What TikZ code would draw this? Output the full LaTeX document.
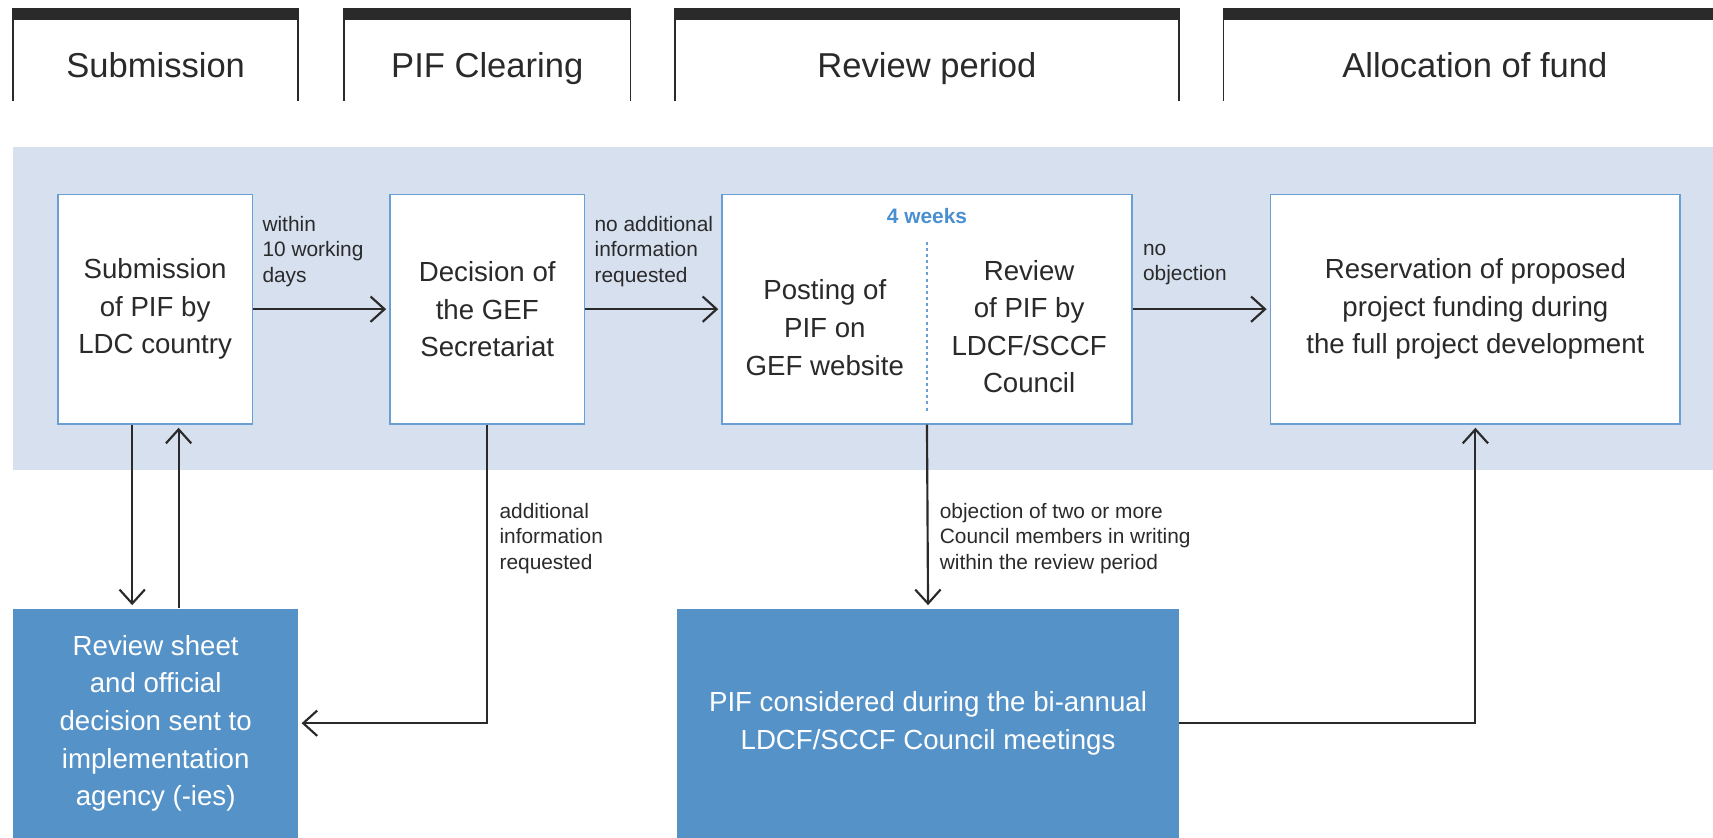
\documentclass[tikz,border=0pt]{standalone}
\usepackage{fontspec}
\setmainfont{Liberation Sans}
\usetikzlibrary{arrows.meta,positioning,calc}

\definecolor{bandblue}{HTML}{D6E0EF}
\definecolor{lineblue}{HTML}{6A9FD4}
\definecolor{boxblue}{HTML}{5592C8}
\definecolor{wkblue}{HTML}{4A8FD0}
\definecolor{txtgray}{HTML}{2A2A2A}
\newcommand{\pxl}{0.25mm}

\tikzset{
  flowbox/.style={draw=lineblue, line width=1.1pt, fill=white, inner sep=0pt, text=txtgray,
    align=center, font=\fontsize{18}{24.5}\selectfont},
  darkbox/.style={fill=boxblue, inner sep=0pt, text=white, align=center,
    font=\fontsize{18}{24.5}\selectfont},
  boxtxt/.style={text=txtgray, align=center, inner sep=0pt, font=\fontsize{18}{24.5}\selectfont},
  lbl/.style={text=txtgray, align=left, inner sep=0pt, anchor=west,
    font=\fontsize{13.6}{16.7}\selectfont},
  tabtxt/.style={text=txtgray, anchor=base, inner sep=0pt, font=\fontsize{22.5}{26}\selectfont},
  tabline/.style={txtgray, line width=1.1pt},
  arr/.style={draw=txtgray, line width=1.4pt, shorten >=0.7mm,
    -{Straight Barb[length=3.2mm, width=5.8mm, line width=1.4pt]}},
}

\begin{document}
\begin{tikzpicture}[x=0.25mm, y=-0.25mm]
    \useasboundingbox (0,0) rectangle (1568,767);

    % Kopfzeile mit den Phasen
    \foreach \l/\r/\t [count=\i] in {12/273/Submission, 315/577/PIF Clearing, 618/1079/Review period} {
        \fill[txtgray] (\l,7) rectangle (\r,18);
        \draw[tabline] (\l,7) -- (\l,92) (\r,7) -- (\r,92);
        \node[tabtxt] (tab\i) at ({(\l+\r)/2},71) {\t};
    }
    \fill[txtgray] (1120,7) rectangle (1568,18);
    \draw[tabline] (1120,7) -- (1120,92);
    \node[tabtxt] (tab4) at (1350,71) {Allocation of fund};

    % Hintergrundband
    \fill[bandblue] (12,135) rectangle (1568,430);

    % Kästen im Band
    \node[flowbox, minimum width=178*\pxl, minimum height=210*\pxl] (sub) at (142,283)
        {Submission\\of PIF by\\LDC country};
    \node[flowbox, minimum width=178*\pxl, minimum height=210*\pxl] (dec) at (446,283)
        {Decision of\\the GEF\\Secretariat};
    \node[flowbox, minimum width=375*\pxl, minimum height=210*\pxl] (post) at (848.5,283) {};
    \node[flowbox, minimum width=375*\pxl, minimum height=210*\pxl] (res) at (1350.5,283)
        {Reservation of proposed\\project funding during\\the full project development};

    \node[text=wkblue, inner sep=0pt, font=\fontsize{13.6}{16}\selectfont\bfseries] (wk) at (848.5,198) {4 weeks};
    \node[boxtxt] (postl) at (755,300) {Posting of\\PIF on\\GEF website};
    \node[boxtxt] (revl) at (942,299) {Review\\of PIF by\\LDCF/SCCF\\Council};
    \draw[lineblue, line width=0.8pt, dash pattern=on 2pt off 2pt]
        ($(post.north)+(0,44)$) -- ($(post.south)+(0,-11)$);

    % Kästen unten
    \node[darkbox, minimum width=261*\pxl, minimum height=210*\pxl] (rev) at (142.5,662)
        {Review sheet\\and official\\decision sent to\\implementation\\agency (-ies)};
    \node[darkbox, minimum width=459*\pxl, minimum height=210*\pxl] (pifc) at (849.5,662)
        {PIF considered during the bi-annual\\LDCF/SCCF Council meetings};

    % Pfeile
    \draw[arr] (sub) -- (dec);
    \draw[arr] (dec) -- (post);
    \draw[arr] (post) -- (res);
    \coordinate (dn) at ($(sub.south)+(-21,0)$);
    \coordinate (up) at ($(rev.north)+(21,0)$);
    \draw[arr] (dn) -- (dn |- rev.north);
    \draw[arr] (up) -- (up |- sub.south);
    \draw[arr] (dec.south) |- (rev.east);
    \draw[arr] (post.south) -- (pifc.north);
    \draw[arr] (pifc.east) -| (res.south);

    % Beschriftungen
    \node[lbl] (l1) at (240,230) {within\\10 working\\days};
    \node[lbl] (l2) at (544,230) {no additional\\information\\requested};
    \node[lbl] (l3) at (1046,242) {no\\objection};
    \node[lbl] (l4) at (457,493) {additional\\information\\requested};
    \node[lbl] (l5) at (860,493) {objection of two or more\\Council members in writing\\within the review period};
\end{tikzpicture}
\end{document}
